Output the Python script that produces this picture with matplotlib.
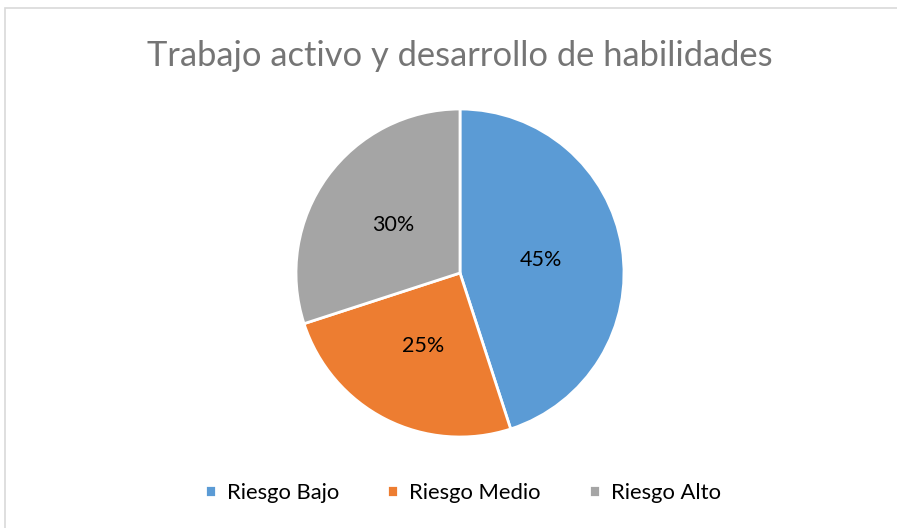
import matplotlib.pyplot as plt
from matplotlib.patches import Rectangle

# datos del gráfico
categorias = ["Riesgo Bajo", "Riesgo Medio", "Riesgo Alto"]
valores = [45, 25, 30]
colores = ["#5B9BD5", "#ED7D31", "#A5A5A5"]
titulo = "Trabajo activo y desarrollo de habilidades"

plt.rcParams['font.family'] = ['Lato', 'DejaVu Sans']

W, H = 897, 528
fig = plt.figure(figsize=(W / 100, H / 100), dpi=100)
fig.patch.set_facecolor("white")

# marco del área del gráfico
fig.patches.append(Rectangle((5 / W, -0.01), 1.02, 1 - 8 / H + 0.01, transform=fig.transFigure,
                             fill=False, edgecolor="#D9D9D9", linewidth=1.2))

# eje de la torta: centro (460, 273), radio 164 px
r = 164
cx, cy = 460, 273
ax = fig.add_axes([(cx - r) / W, (H - cy - r) / H, 2 * r / W, 2 * r / H])
wedges, texts, autotexts = ax.pie(
    valores, colors=colores, startangle=90, counterclock=False,
    autopct=lambda p: f"{p:.0f}%", pctdistance=0.5, radius=1.0,
    wedgeprops=dict(edgecolor="white", linewidth=2),
    textprops=dict(fontsize=15.5, color="black"))
ax.set_xlim(-1, 1)
ax.set_ylim(-1, 1)
ax.set_aspect("equal")

fig.text(460 / W, 1 - 56 / H, titulo, ha="center", va="center",
         fontsize=24.8, color="#757575")

fig.legend(wedges, categorias, loc="center", bbox_to_anchor=(463 / W, 1 - 493 / H),
           ncol=3, frameon=False, fontsize=15.8, handlelength=0.5, handleheight=0.5,
           handletextpad=0.5, columnspacing=2.2)

fig.savefig("out.png", dpi=100)
